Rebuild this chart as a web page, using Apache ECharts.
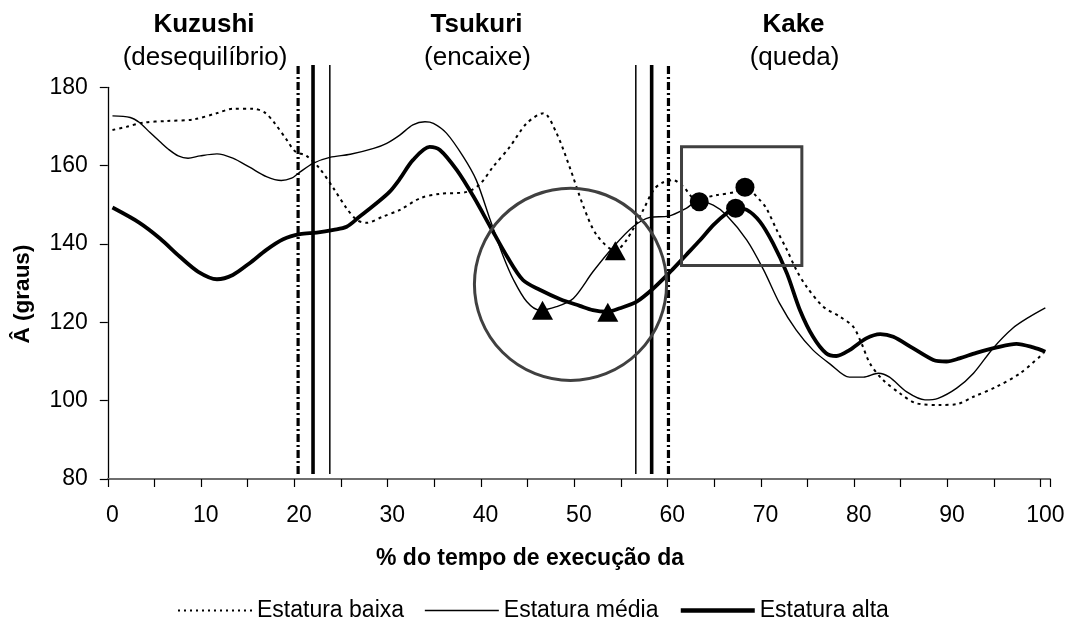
<!DOCTYPE html>
<html>
<head>
<meta charset="utf-8">
<script src="https://cdn.jsdelivr.net/npm/echarts@6/dist/echarts.min.js"></script>
<style>
html,body{margin:0;padding:0;background:#fff;}
#chart{width:1068px;height:619px;}
</style>
</head>
<body>
<div id="chart"></div>
<script>
// ---------- data ----------
const seriesNames = ['Estatura baixa', 'Estatura média', 'Estatura alta'];
const xTickLabels = ['0','10','20','30','40','50','60','70','80','90','100'];
const yMin = 80, yMax = 180, yStep = 20;

const baixa = [[0,169.1],[1.5,169.9],[3.3,171.0],[5.8,171.4],[8.7,171.8],[11.2,173.4],[12.9,174.5],[15.1,174.5],[16.3,173.6],[17.4,170.8],[18.7,166.5],[19.6,163.6],[20.8,162.5],[22.2,159.3],[23.7,154.2],[25.1,149.1],[26.2,146.1],[27.2,145.4],[29.0,147.0],[30.8,148.7],[33.0,151.7],[35.1,152.8],[38.0,153.3],[39.4,155.3],[40.8,159.7],[42.6,164.8],[44.4,170.8],[46.2,173.4],[47.6,168.3],[49.0,159.7],[50.5,149.5],[51.9,142.3],[53.9,138.3],[55.1,141.0],[56.9,148.7],[58.0,153.8],[58.9,155.6],[60.1,156.3],[61.2,154.6],[62.5,151.5],[64.8,152.5],[66.8,153.3],[67.8,154.5],[69.4,151.2],[70.1,149.1],[71.2,143.6],[72.3,138.5],[73.3,133.4],[74.4,129.1],[76.2,124.0],[78.0,121.4],[79.4,118.9],[80.3,114.6],[81.2,109.5],[82.6,105.3],[84.4,101.9],[86.2,99.3],[88.7,98.9],[90.5,99.1],[92.3,101.0],[94.8,103.6],[97.3,107.0],[99.8,112.1]];

const media = [[0,172.7],[1.9,172.3],[2.9,171.0],[4,168.5],[5.1,166.1],[6,164.2],[7.05,162.5],[8.1,161.9],[9.4,162.5],[11.2,163.0],[12.9,161.9],[14.7,159.6],[16.5,157.2],[18.1,156.2],[19.2,156.8],[19.9,158.0],[21.5,160.6],[23.3,162.1],[25.5,162.9],[28.0,164.4],[29.4,165.7],[30.8,167.8],[32.2,170.4],[33.5,171.2],[34.4,170.8],[35.8,168.3],[37.6,162.3],[39.0,156.3],[40.5,146.1],[41.9,136.8],[43.0,130.8],[44.4,125.3],[45.8,123.1],[47.6,124.0],[49.4,126.1],[51.5,132.9],[53.7,139.3],[55.8,144.4],[57.6,146.8],[59.6,147.1],[61.5,149.1],[62.8,151.0],[64.4,149.9],[65.8,147.4],[68.0,141.0],[69.8,133.4],[71.5,124.9],[73.3,118.0],[75.1,112.9],[76.9,109.4],[79.0,106.0],[80.5,106.0],[82.1,107.0],[83.3,106.0],[85.1,102.3],[87.1,100.2],[88.5,100.6],[90.5,103.2],[92.3,107.0],[94.4,113.4],[96.5,118.5],[98.3,121.4],[100,123.7]];

const alta = [[0,149.3],[2.9,145.4],[5.1,141.4],[7.2,136.8],[9.2,132.9],[11.2,131.0],[12.9,132.1],[14.7,135.1],[16.5,138.5],[18.3,141.2],[20.1,142.5],[21.9,142.9],[23.7,143.6],[25.1,144.4],[26.5,147.0],[28.3,150.4],[29.7,153.3],[30.8,156.6],[32.2,161.4],[34.0,164.8],[35.1,164.0],[36.9,158.9],[38.7,152.1],[40.5,144.4],[42.3,136.8],[44.0,130.8],[45.8,128.3],[48.0,125.9],[50.1,124.2],[51.5,123.1],[53.0,122.7],[54.4,123.6],[56.2,125.3],[58.0,128.7],[59.8,132.9],[61.5,137.2],[63.0,141.0],[64.4,144.8],[65.8,147.8],[66.8,149.1],[68.0,148.7],[69.4,145.7],[70.8,140.2],[72.3,132.5],[73.7,123.1],[75.1,116.3],[76.5,112.1],[77.6,111.4],[79.0,112.9],[80.8,115.9],[82.3,117.0],[83.7,116.3],[85.8,113.4],[88.0,110.4],[89.4,110.0],[90.8,110.8],[92.6,112.2],[94.8,113.6],[96.9,114.5],[98.7,113.6],[100,112.5]];

// minima (triangles) and maxima (circles)
const minPoints = [[46.1,123.1],[53.1,122.6],[53.9,138.3]];
const maxPoints = [[62.9,150.8],[66.8,149.1],[67.8,154.5]];

// phase limits (x) per group
const limitsBaixa = [19.9, 59.6];
const limitsMedia = [23.3, 56.1];
const limitsAlta  = [21.5, 57.8];

// phase labels
const phaseTitles = ['Kuzushi', 'Tsukuri', 'Kake'];
const phaseSubtitles = ['(desequilíbrio)', '(encaixe)', '(queda)'];

// highlighted regions (data units)
const circleCenter = [49.1, 129.7];
const circleRadiusX = 10.3;
const rectCorners = [[61.0, 164.8], [73.9, 134.5]];

const xTitle = '% do tempo de execução da';
const yTitle = 'Â (graus)';

// ---------- chart ----------
const FONT = '"Liberation Sans", Arial, Helvetica, sans-serif';
const chart = echarts.init(document.getElementById('chart'), null, {renderer: 'canvas'});

const lineTop = 185.7, lineBottom = 81.3;
function vline(x, style) {
  return {
    type: 'line', silent: true, clip: false, symbol: 'none', z: 3,
    data: [[x, lineBottom], [x, lineTop]],
    lineStyle: style, animation: false
  };
}
const dashDot = {color: '#000', width: 3.2, type: [8, 3, 2, 3]};
const thickV = {color: '#000', width: 3.6, type: 'solid'};
const thinV = {color: '#000', width: 1.5, type: 'solid'};

const styles = {
  'Estatura baixa': {color: '#000', width: 2, type: [3, 4]},
  'Estatura média': {color: '#000', width: 1.4, type: 'solid'},
  'Estatura alta': {color: '#000', width: 3.8, type: 'solid'}
};
const legendStyles = {
  'Estatura baixa': {color: '#000', width: 2, type: [2, 4]},
  'Estatura média': {color: '#000', width: 1.6, type: 'solid'},
  'Estatura alta': {color: '#000', width: 4.5, type: 'solid'}
};
const dataMap = {'Estatura baixa': baixa, 'Estatura média': media, 'Estatura alta': alta};

const lineSeries = seriesNames.map(n => ({
  name: n, type: 'line', data: dataMap[n], symbol: 'none', showSymbol: false,
  smooth: 0.3, lineStyle: styles[n], itemStyle: {color: '#000'}, z: 4, animation: false
}));

const option = {
  animation: false,
  backgroundColor: '#fff',
  textStyle: {fontFamily: FONT},
  grid: {left: 107.8, right: 18, top: 87.3, bottom: 140, containLabel: false},
  xAxis: {
    type: 'value', min: -0.5, max: 100.5, interval: 5,
    splitLine: {show: false},
    axisLine: {onZero: false, lineStyle: {color: '#6e6e6e', width: 2}},
    axisTick: {show: true, length: 8, lineStyle: {color: '#000', width: 1.2}},
    axisLabel: {
      color: '#000', fontSize: 23, fontFamily: FONT, margin: 25,
      padding: [0, 0, 0, 9.3],
      formatter: (v, i) => (i % 2 === 0 && i / 2 < xTickLabels.length) ? xTickLabels[i / 2] : ''
    }
  },
  yAxis: {
    type: 'value', min: yMin, max: yMax, interval: yStep,
    splitLine: {show: false},
    axisLine: {show: true, onZero: false, lineStyle: {color: '#000', width: 1.3}},
    axisTick: {show: true, length: 8, lineStyle: {color: '#000', width: 1.2}},
    axisLabel: {color: '#000', fontSize: 23, fontFamily: FONT, margin: 20}
  },
  legend: {
    show: true, left: 172, top: 594, itemWidth: 74, itemHeight: 14, itemGap: 20,
    textStyle: {color: '#000', fontSize: 23, fontFamily: FONT},
    data: seriesNames.map(n => ({name: n, lineStyle: legendStyles[n], itemStyle: {opacity: 0}})),
    selectedMode: false
  },
  series: [
    vline(limitsBaixa[0], dashDot), vline(limitsBaixa[1], dashDot),
    vline(limitsAlta[0], thickV), vline(limitsAlta[1], thickV),
    vline(limitsMedia[0], thinV), vline(limitsMedia[1], thinV),
    ...lineSeries,
    {type: 'scatter', data: minPoints, symbol: 'triangle', symbolSize: [21, 19], itemStyle: {color: '#000', opacity: 1}, z: 6, silent: true},
    {type: 'scatter', data: maxPoints, symbol: 'circle', symbolSize: 19, itemStyle: {color: '#000', opacity: 1}, z: 6, silent: true}
  ]
};
chart.setOption(option);

// annotations positioned through the chart's own scales
const c = chart.convertToPixel({gridIndex: 0}, circleCenter);
const cEdge = chart.convertToPixel({gridIndex: 0}, [circleCenter[0] + circleRadiusX, circleCenter[1]]);
const r0 = chart.convertToPixel({gridIndex: 0}, rectCorners[0]);
const r1 = chart.convertToPixel({gridIndex: 0}, rectCorners[1]);

const titleX = [204, 476.5, 793.5];
const graphics = [];
phaseTitles.forEach((t, i) => {
  graphics.push({type: 'text', x: titleX[i], y: 24.5, silent: true,
    style: {text: t, fill: '#000', font: 'bold 26px ' + FONT, align: 'center', verticalAlign: 'middle'}});
  graphics.push({type: 'text', x: titleX[i] + 1, y: 58, silent: true,
    style: {text: phaseSubtitles[i], fill: '#000', font: '26px ' + FONT, align: 'center', verticalAlign: 'middle'}});
});
graphics.push({type: 'text', x: 530, y: 559, silent: true,
  style: {text: xTitle, fill: '#000', font: 'bold 23px ' + FONT, align: 'center', verticalAlign: 'middle'}});
graphics.push({type: 'text', x: 23, y: 294, rotation: Math.PI / 2, silent: true,
  style: {text: yTitle, fill: '#000', font: 'bold 22.5px ' + FONT, align: 'center', verticalAlign: 'middle'}});
graphics.push({type: 'circle', silent: true, z: 5,
  shape: {cx: c[0], cy: c[1], r: Math.abs(cEdge[0] - c[0])},
  style: {fill: 'none', stroke: '#404040', lineWidth: 3}});
graphics.push({type: 'rect', silent: true, z: 5,
  shape: {x: Math.min(r0[0], r1[0]), y: Math.min(r0[1], r1[1]), width: Math.abs(r1[0] - r0[0]), height: Math.abs(r1[1] - r0[1])},
  style: {fill: 'none', stroke: '#404040', lineWidth: 3}});
chart.setOption({graphic: graphics});
</script>
</body>
</html>
